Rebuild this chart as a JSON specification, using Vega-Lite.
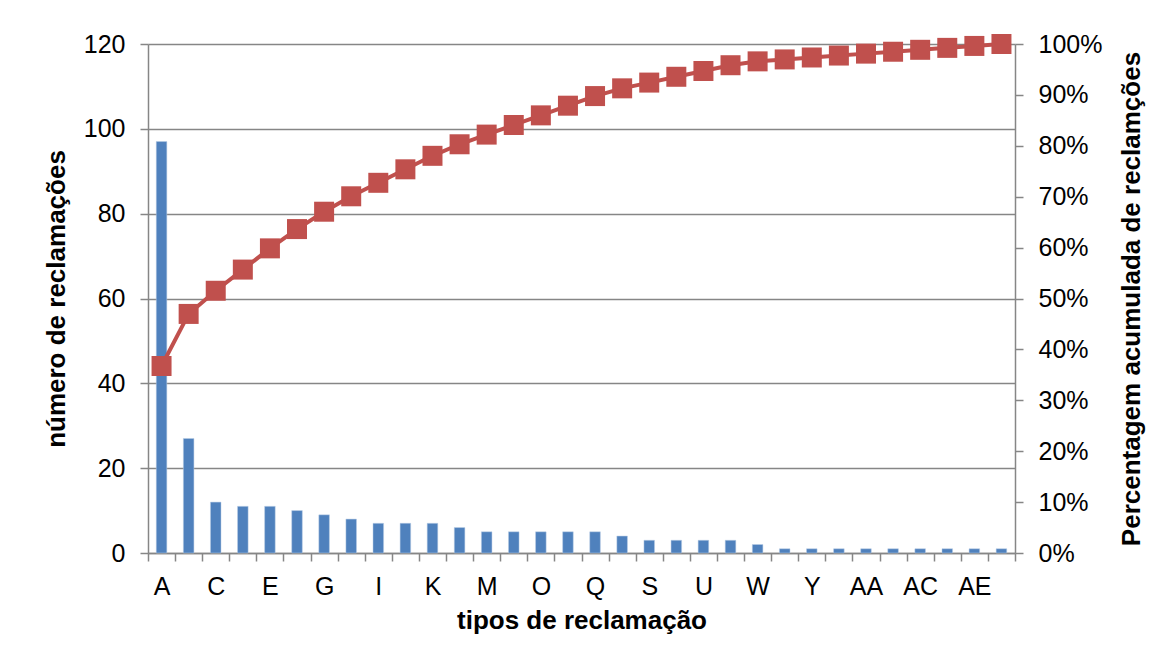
{
  "$schema": "https://vega.github.io/schema/vega-lite/v6.json",
  "width": 867,
  "height": 509,
  "autosize": {"type": "none"},
  "padding": {"left": 148, "top": 44, "right": 152, "bottom": 109},
  "background": "white",
  "config": {
    "view": {"stroke": null},
    "font": "Liberation Sans",
    "axis": {
      "labelFont": "Liberation Sans",
      "titleFont": "Liberation Sans",
      "labelFontSize": 25,
      "titleFontSize": 26,
      "titleFontWeight": "bold",
      "labelColor": "#000000",
      "titleColor": "#000000",
      "domainColor": "#868686",
      "domainWidth": 1.5,
      "tickColor": "#868686",
      "tickWidth": 1.5,
      "tickSize": 8,
      "gridColor": "#868686",
      "gridWidth": 1.5
    }
  },
  "data": {
    "values": [
      {"tipo": "A", "n": 97, "acum": 0.3674},
      {"tipo": "B", "n": 27, "acum": 0.4697},
      {"tipo": "C", "n": 12, "acum": 0.5152},
      {"tipo": "D", "n": 11, "acum": 0.5568},
      {"tipo": "E", "n": 11, "acum": 0.5985},
      {"tipo": "F", "n": 10, "acum": 0.6364},
      {"tipo": "G", "n": 9, "acum": 0.6705},
      {"tipo": "H", "n": 8, "acum": 0.7008},
      {"tipo": "I", "n": 7, "acum": 0.7273},
      {"tipo": "J", "n": 7, "acum": 0.7538},
      {"tipo": "K", "n": 7, "acum": 0.7803},
      {"tipo": "L", "n": 6, "acum": 0.803},
      {"tipo": "M", "n": 5, "acum": 0.822},
      {"tipo": "N", "n": 5, "acum": 0.8409},
      {"tipo": "O", "n": 5, "acum": 0.8598},
      {"tipo": "P", "n": 5, "acum": 0.8788},
      {"tipo": "Q", "n": 5, "acum": 0.8977},
      {"tipo": "R", "n": 4, "acum": 0.9129},
      {"tipo": "S", "n": 3, "acum": 0.9242},
      {"tipo": "T", "n": 3, "acum": 0.9356},
      {"tipo": "U", "n": 3, "acum": 0.947},
      {"tipo": "V", "n": 3, "acum": 0.9583},
      {"tipo": "W", "n": 2, "acum": 0.9659},
      {"tipo": "X", "n": 1, "acum": 0.9697},
      {"tipo": "Y", "n": 1, "acum": 0.9735},
      {"tipo": "Z", "n": 1, "acum": 0.9773},
      {"tipo": "AA", "n": 1, "acum": 0.9811},
      {"tipo": "AB", "n": 1, "acum": 0.9848},
      {"tipo": "AC", "n": 1, "acum": 0.9886},
      {"tipo": "AD", "n": 1, "acum": 0.9924},
      {"tipo": "AE", "n": 1, "acum": 0.9962},
      {"tipo": "AF", "n": 1, "acum": 1.0}
    ]
  },
  "encoding": {
    "x": {
      "field": "tipo",
      "type": "nominal",
      "sort": null,
      "scale": {"paddingInner": 0, "paddingOuter": 0},
      "axis": {
        "title": "tipos de reclamação",
        "labelAngle": 0,
        "tickBand": "extent",
        "labelOverlap": false,
        "labelPadding": 13,
        "titlePadding": 8,
        "labelExpr": "indexof(['A','C','E','G','I','K','M','O','Q','S','U','W','Y','AA','AC','AE'], datum.value) >= 0 ? datum.value : ''"
      }
    }
  },
  "layer": [
    {
      "mark": {"type": "bar", "color": "#4F81BD", "width": {"band": 0.39}, "stroke": "#B9CDE5", "strokeWidth": 0.5},
      "encoding": {
        "y": {
          "field": "n",
          "type": "quantitative",
          "scale": {"domain": [0, 120], "nice": false},
          "axis": {
            "title": "número de reclamações",
            "values": [0, 20, 40, 60, 80, 100, 120],
            "grid": true,
            "labelPadding": 15,
            "titlePadding": 14,
            "orient": "left"
          }
        }
      }
    },
    {
      "mark": {
        "type": "line",
        "color": "#C0504D",
        "strokeWidth": 4,
        "point": {"shape": "square", "size": 400, "filled": true, "color": "#C0504D", "opacity": 1}
      },
      "encoding": {
        "y": {
          "field": "acum",
          "type": "quantitative",
          "scale": {"domain": [0, 1], "nice": false},
          "axis": {
            "title": "Percentagem acumulada de reclamções",
            "orient": "right",
            "format": ".0%",
            "values": [0, 0.1, 0.2, 0.3, 0.4, 0.5, 0.6, 0.7, 0.8, 0.9, 1.0],
            "grid": false,
            "labelPadding": 15,
            "titlePadding": 17,
            "titleAngle": 270,
            "titleBaseline": "top"
          }
        }
      }
    }
  ],
  "resolve": {"scale": {"y": "independent"}}
}
